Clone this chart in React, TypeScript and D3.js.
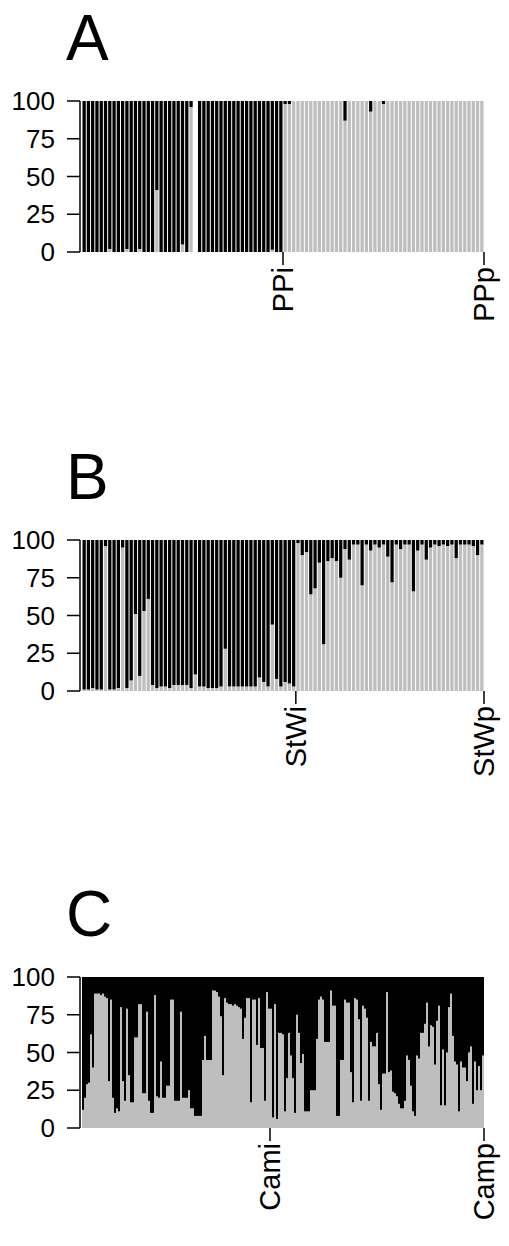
import React from "react";
import * as d3 from "d3";

// ---------- data (gray = % of lower/gray cluster per individual) ----------
const aGroups = ["PPi", "PPp"];
const aGrayPPi: (number | null)[] = [0,0,0,0,0,0,2,0,0,0, 2,0,0,2,0,0,0,41,0,0, 0,0,0,5,0,96,null,0,0,0, 0,0,0,0,0,0,0,0,0,0, 0,0,0,0,1.5,0,0];
const aGrayPPp: (number | null)[] = [98,98,100,100,100,100,100,100,100,100, 100,100,100,100,87,100,100,100,100,100, 93,100,100,98,100,100,100,100,100,100, 100,100,100,100,100,100,100,100,100,100, 100,100,100,100,100,100,100];

const bGroups = ["StWi", "StWp"];
const bGrayStWi: (number | null)[] = [1,1,2,1,1,96,1,1,2,95, 2,7,51,10,53,61,4,2,3,3, 2,4,4,4,4,2,11,3,3,2, 2,2,3,28,3,3,3,3,3,3, 3,9,6,3,44,8,3,6,5,3];
const bGrayStWp: (number | null)[] = [98,90,92,64,68,85,31,86,88,86, 75,94,87,97,97,70,97,93,97,95, 97,89,72,97,94,97,97,66,93,97, 87,95,97,96,97,96,97,88,97,97, 97,96,90,97];

const cGroups = ["Cami", "Camp"];
const cGrayCami: (number | null)[] = [12,20,29,30,62,40,89,89,89,88, 89,87,86,31,85,20,10,13,11,80, 31,18,79,35,17,17,60,60,82,82, 23,23,77,18,10,10,88,21,20,44, 20,20,28,28,85,85,18,18,18,77, 20,20,20,25,13,13,8,8,8,8, 45,61,45,45,45,91,91,90,87,74, 35,86,83,82,82,81,82,81,80,79, 59,73,86,86,17,85,85,55,86,53, 53,18,90,79];
const cGrayCamp: (number | null)[] = [79,7,82,6,63,63,62,11,33,63, 48,33,10,75,63,43,49,11,11,11, 25,25,25,59,85,87,85,57,57,57, 91,81,81,8,8,45,45,85,83,83, 37,17,86,85,72,18,81,79,73,18, 57,54,54,63,29,12,36,36,90,37, 38,24,23,21,16,13,13,18,48,45, 28,11,8,48,46,63,63,69,83,54, 68,67,42,71,81,15,52,15,50,80, 89,61,44,42,11,44,40,40,31,50, 54,16,44,25,41,25,48];

const yTicks = [0, 25, 50, 75, 100];
const titles = ["A", "B", "C"];

const FONT = "'Liberation Sans', Arial, Helvetica, sans-serif";
const GRAY = "#bebebe";

interface PanelProps {
  title: string;
  groups: string[];
  series: (number | null)[][];
  top: number;
  gap: number;
}

function Panel({ title, groups, series, top, gap }: PanelProps) {
  const values = series.flat();
  const n = values.length;
  const x = d3.scaleLinear().domain([0, n]).range([82, 484]);
  const y = d3.scaleLinear().domain([0, 100]).range([top + 151, top]);
  const ends: number[] = [];
  let acc = 0;
  series.forEach((s) => {
    acc += s.length;
    ends.push(acc);
  });
  return (
    <g>
      <text x={66} y={top - 41} fontSize={64} fontFamily={FONT} fill="#000">
        {title}
      </text>
      {values.map((g, i) => {
        if (g === null) return null;
        const x0 = x(i) + gap / 2;
        const w = x(i + 1) - x(i) - gap;
        return (
          <g key={i}>
            <rect x={x0} y={y(g)} width={w} height={y(0) - y(g)} fill={GRAY} />
            <rect x={x0} y={y(100)} width={w} height={y(g) - y(100)} fill="#000" />
          </g>
        );
      })}
      {/* y axis */}
      <line x1={80} x2={80} y1={y(0)} y2={y(100)} stroke="#000" strokeWidth={1.5} />
      {yTicks.map((t) => (
        <g key={t}>
          <line x1={67} x2={80} y1={y(t)} y2={y(t)} stroke="#000" strokeWidth={1.5} />
          <text x={55} y={y(t)} dy="0.35em" textAnchor="end" fontSize={26} fontFamily={FONT}>
            {t}
          </text>
        </g>
      ))}
      {/* x ticks at group ends */}
      {ends.map((e, k) => (
        <g key={k}>
          <line x1={x(e)} x2={x(e)} y1={y(0)} y2={y(0) + 13} stroke="#000" strokeWidth={1.5} />
          <text
            transform={`translate(${x(e)},${y(0) + 15}) rotate(-90)`}
            dy="0.35em"
            textAnchor="end"
            fontSize={29}
            fontFamily={FONT}
          >
            {groups[k]}
          </text>
        </g>
      ))}
    </g>
  );
}

export default function App() {
  return (
    <svg
      width={509}
      height={1246}
      style={{ position: "absolute", left: 0, top: 0, background: "#fff" }}
    >
      <rect width={509} height={1246} fill="#fff" />
      <Panel title={titles[0]} groups={aGroups} series={[aGrayPPi, aGrayPPp]} top={101} gap={1} />
      <Panel title={titles[1]} groups={bGroups} series={[bGrayStWi, bGrayStWp]} top={540} gap={1} />
      <Panel title={titles[2]} groups={cGroups} series={[cGrayCami, cGrayCamp]} top={977} gap={0} />
    </svg>
  );
}
